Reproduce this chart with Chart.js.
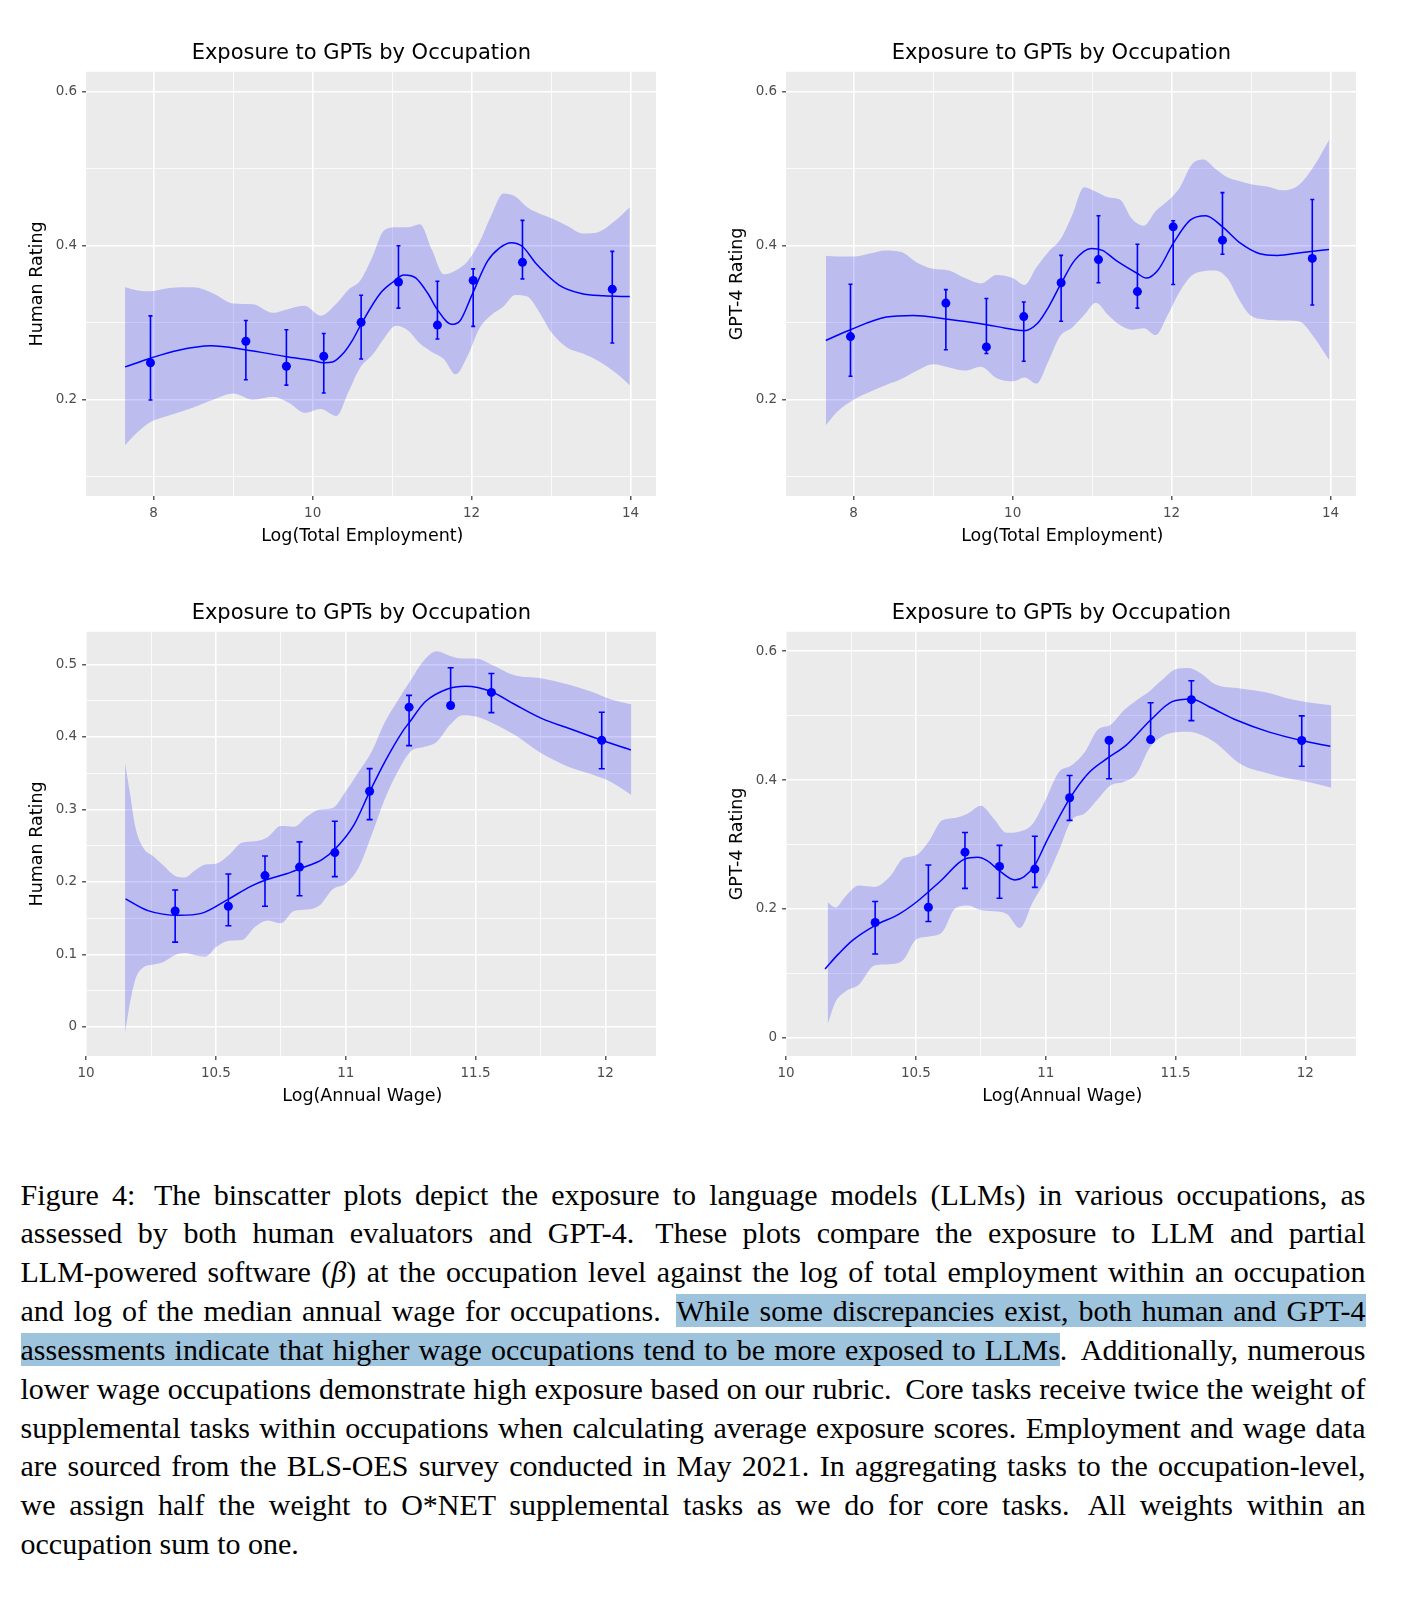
<!DOCTYPE html>
<html>
<head>
<meta charset="utf-8">
<script src="https://cdn.jsdelivr.net/npm/chart.js@4.4.1/dist/chart.umd.min.js"></script>
<style>
html,body{margin:0;padding:0;background:#fff;}
body{width:1424px;height:1608px;overflow:hidden;position:relative;}
.panel{position:absolute;width:720px;height:550px;}
.panel canvas{display:block;}
#caption{position:absolute;left:20.5px;top:1175.5px;width:1345px;font-family:"Liberation Serif","Times New Roman",serif;font-size:30px;line-height:38.85px;color:#000;}
.row{height:38.85px;white-space:nowrap;}
.ln{white-space:nowrap;display:inline-block;}
.hl{background:#9ec4dd;}
</style>
</head>
<body>
<div class="panel" style="left:5px;top:10px;"><canvas id="c1" width="720" height="550"></canvas></div>
<div class="panel" style="left:705px;top:10px;"><canvas id="c2" width="720" height="550"></canvas></div>
<div class="panel" style="left:5px;top:569.65px;"><canvas id="c3" width="720" height="550"></canvas></div>
<div class="panel" style="left:705px;top:569.65px;"><canvas id="c4" width="720" height="550"></canvas></div>

<div id="caption">
<div class="row"><span class="ln j">Figure 4:&#8201; The binscatter plots depict the exposure to language models (LLMs) in various occupations, as</span></div>
<div class="row"><span class="ln j">assessed by both human evaluators and GPT-4.&#8201; These plots compare the exposure to LLM and partial</span></div>
<div class="row"><span class="ln j">LLM-powered software (<i>β</i>) at the occupation level against the log of total employment within an occupation</span></div>
<div class="row"><span class="ln j">and log of the median annual wage for occupations.&#8201; <span class="hl">While some discrepancies exist, both human and GPT-4</span></span></div>
<div class="row"><span class="ln j"><span class="hl">assessments indicate that higher wage occupations tend to be more exposed to LLMs</span>.&#8201; Additionally, numerous</span></div>
<div class="row"><span class="ln j">lower wage occupations demonstrate high exposure based on our rubric.&#8201; Core tasks receive twice the weight of</span></div>
<div class="row"><span class="ln j">supplemental tasks within occupations when calculating average exposure scores. Employment and wage data</span></div>
<div class="row"><span class="ln j">are sourced from the BLS-OES survey conducted in May 2021. In aggregating tasks to the occupation-level,</span></div>
<div class="row"><span class="ln j">we assign half the weight to O*NET supplemental tasks as we do for core tasks.&#8201; All weights within an</span></div>
<div class="row"><span class="ln">occupation sum to one.</span></div>
</div>

<script>
// ---------------- DATA ----------------
const chartTitle = 'Exposure to GPTs by Occupation';

// bin centres
const empBins  = [7.96, 9.16, 9.67, 10.14, 10.61, 11.08, 11.57, 12.02, 12.64, 13.77];
const wageBins = [10.343, 10.548, 10.689, 10.822, 10.958, 11.092, 11.244, 11.404, 11.561, 11.986];

// Panel 1: Human rating vs log employment
const humanEmpMean = [0.248, 0.276, 0.2435, 0.2565, 0.3005, 0.353, 0.297, 0.355, 0.3785, 0.3436];
const humanEmpLow  = [0.1996, 0.226, 0.219, 0.2087, 0.253, 0.319, 0.279, 0.2953, 0.357, 0.2737];
const humanEmpHigh = [0.309, 0.303, 0.291, 0.286, 0.3358, 0.400, 0.354, 0.370, 0.433, 0.3927];
const humanEmpFitX = [7.64, 7.96, 8.3, 8.72, 9.15, 9.67, 10.0, 10.14, 10.25, 10.4, 10.5, 10.62, 10.85, 11.0, 11.15, 11.3, 11.45, 11.57, 11.75, 11.85, 12.0, 12.2, 12.35, 12.5, 12.64, 12.81, 13.1, 13.38, 13.66, 13.99];
const humanEmpFitY = [0.2427, 0.254, 0.264, 0.27, 0.265, 0.256, 0.251, 0.248, 0.249, 0.262, 0.277, 0.3, 0.338, 0.352, 0.362, 0.358, 0.338, 0.317, 0.298, 0.302, 0.335, 0.38, 0.397, 0.404, 0.399, 0.377, 0.349, 0.338, 0.335, 0.334];
const humanEmpBandX = [7.64, 7.8, 7.96, 8.2, 8.5, 8.75, 9.0, 9.25, 9.5, 9.7, 9.9, 10.1, 10.3, 10.45, 10.6, 10.75, 10.9, 11.05, 11.2, 11.35, 11.5, 11.65, 11.8, 11.95, 12.1, 12.25, 12.4, 12.55, 12.7, 12.85, 13.0, 13.2, 13.4, 13.6, 13.8, 13.99];
const humanEmpBandHigh = [0.346, 0.342, 0.341, 0.345, 0.346, 0.338, 0.325, 0.324, 0.313, 0.318, 0.322, 0.309, 0.325, 0.343, 0.355, 0.385, 0.42, 0.424, 0.424, 0.428, 0.395, 0.363, 0.368, 0.38, 0.405, 0.44, 0.468, 0.464, 0.45, 0.442, 0.436, 0.426, 0.416, 0.418, 0.432, 0.45];
const humanEmpBandLow  = [0.141, 0.158, 0.171, 0.18, 0.19, 0.2, 0.208, 0.2, 0.204, 0.196, 0.183, 0.188, 0.179, 0.21, 0.242, 0.258, 0.28, 0.296, 0.29, 0.273, 0.262, 0.253, 0.233, 0.257, 0.293, 0.31, 0.321, 0.336, 0.334, 0.314, 0.288, 0.268, 0.26, 0.25, 0.236, 0.219];

// Panel 2: GPT-4 rating vs log employment
const gptEmpMean = [0.282, 0.3255, 0.2686, 0.308, 0.352, 0.382, 0.3405, 0.4246, 0.4073, 0.3836];
const gptEmpLow  = [0.2306, 0.265, 0.26, 0.25, 0.302, 0.352, 0.319, 0.3496, 0.389, 0.323];
const gptEmpHigh = [0.350, 0.343, 0.3315, 0.327, 0.3875, 0.439, 0.402, 0.4324, 0.469, 0.46];
const gptEmpFitX = [7.65, 7.96, 8.41, 8.75, 9.16, 9.675, 9.91, 10.145, 10.32, 10.45, 10.61, 10.78, 10.99, 11.13, 11.3, 11.57, 11.68, 11.83, 12.02, 12.23, 12.43, 12.64, 12.87, 13.1, 13.33, 13.62, 13.98];
const gptEmpFitY = [0.277, 0.291, 0.3074, 0.3095, 0.305, 0.2975, 0.293, 0.2897, 0.3, 0.32, 0.351, 0.381, 0.3966, 0.394, 0.381, 0.364, 0.358, 0.3686, 0.403, 0.433, 0.439, 0.4246, 0.403, 0.39, 0.3875, 0.391, 0.3953];
const gptEmpBandX = [7.65, 7.8, 8.0, 8.2, 8.4, 8.6, 8.8, 9.0, 9.2, 9.4, 9.6, 9.8, 10.0, 10.15, 10.3, 10.45, 10.6, 10.75, 10.9, 11.05, 11.2, 11.35, 11.5, 11.65, 11.8, 11.95, 12.1, 12.25, 12.4, 12.55, 12.7, 12.85, 13.0, 13.2, 13.4, 13.6, 13.8, 13.98];
const gptEmpBandHigh = [0.387, 0.386, 0.386, 0.39, 0.394, 0.392, 0.378, 0.37, 0.368, 0.358, 0.351, 0.362, 0.358, 0.349, 0.372, 0.392, 0.408, 0.44, 0.476, 0.47, 0.463, 0.46, 0.435, 0.426, 0.445, 0.458, 0.475, 0.505, 0.512, 0.5, 0.489, 0.484, 0.48, 0.477, 0.472, 0.479, 0.505, 0.5375];
const gptEmpBandLow  = [0.167, 0.185, 0.2, 0.21, 0.219, 0.227, 0.238, 0.246, 0.242, 0.238, 0.243, 0.228, 0.224, 0.229, 0.221, 0.25, 0.283, 0.294, 0.31, 0.326, 0.31, 0.297, 0.291, 0.293, 0.284, 0.31, 0.34, 0.361, 0.367, 0.368, 0.358, 0.33, 0.309, 0.304, 0.303, 0.302, 0.28, 0.252];

// Panel 3: Human rating vs log wage
const humanWageMean = [0.160, 0.1665, 0.2088, 0.2205, 0.2405, 0.325, 0.441, 0.4433, 0.4614, 0.3953];
const humanWageLow  = [0.117, 0.1395, 0.1665, 0.181, 0.2074, 0.286, 0.388, 0.4395, 0.4335, 0.356];
const humanWageHigh = [0.189, 0.211, 0.2358, 0.2553, 0.2837, 0.3563, 0.4572, 0.4953, 0.4874, 0.434];
const humanWageFitX = [10.152, 10.238, 10.358, 10.444, 10.548, 10.634, 10.689, 10.772, 10.822, 10.91, 10.958, 11.03, 11.092, 11.151, 11.22, 11.244, 11.306, 11.392, 11.461, 11.561, 11.65, 11.754, 11.874, 11.986, 12.098];
const humanWageFitY = [0.1767, 0.1605, 0.154, 0.1567, 0.1763, 0.194, 0.2023, 0.2112, 0.2181, 0.2312, 0.2451, 0.2777, 0.3242, 0.366, 0.408, 0.4195, 0.4484, 0.466, 0.4698, 0.4623, 0.445, 0.4256, 0.4098, 0.3953, 0.3819];
const humanWageBandX = [10.15, 10.17, 10.19, 10.22, 10.26, 10.3, 10.34, 10.38, 10.42, 10.46, 10.5, 10.55, 10.6, 10.65, 10.7, 10.75, 10.8, 10.85, 10.9, 10.95, 11.0, 11.05, 11.1, 11.15, 11.2, 11.25, 11.3, 11.35, 11.4, 11.45, 11.5, 11.56, 11.65, 11.75, 11.85, 11.95, 12.02, 12.1];
const humanWageBandHigh = [0.364, 0.32, 0.275, 0.247, 0.235, 0.222, 0.209, 0.206, 0.216, 0.224, 0.225, 0.237, 0.254, 0.256, 0.262, 0.277, 0.276, 0.29, 0.3, 0.302, 0.325, 0.352, 0.38, 0.42, 0.45, 0.478, 0.505, 0.518, 0.512, 0.508, 0.508, 0.5, 0.485, 0.481, 0.473, 0.462, 0.452, 0.445];
const humanWageBandLow  = [-0.008, 0.035, 0.066, 0.082, 0.086, 0.09, 0.099, 0.102, 0.099, 0.097, 0.11, 0.119, 0.12, 0.138, 0.147, 0.143, 0.16, 0.162, 0.168, 0.19, 0.198, 0.22, 0.265, 0.314, 0.352, 0.38, 0.386, 0.393, 0.416, 0.43, 0.428, 0.42, 0.403, 0.378, 0.36, 0.348, 0.338, 0.32];

// Panel 4: GPT-4 rating vs log wage
const gptWageMean = [0.1786, 0.2023, 0.2879, 0.2658, 0.2616, 0.3725, 0.4618, 0.4628, 0.5248, 0.4613];
const gptWageLow  = [0.1298, 0.1802, 0.2317, 0.2164, 0.2333, 0.3373, 0.4019, 0.4628, 0.4923, 0.4213];
const gptWageHigh = [0.2112, 0.268, 0.3184, 0.2984, 0.3126, 0.4071, 0.4618, 0.5201, 0.5542, 0.4996];
const gptWageFitX = [10.15, 10.203, 10.257, 10.342, 10.435, 10.506, 10.595, 10.688, 10.738, 10.774, 10.822, 10.881, 10.916, 10.957, 11.005, 11.091, 11.166, 11.242, 11.308, 11.403, 11.487, 11.561, 11.629, 11.736, 11.861, 11.986, 12.096];
const gptWageFitY = [0.1066, 0.1303, 0.1513, 0.1739, 0.1918, 0.2117, 0.2432, 0.2774, 0.28, 0.2748, 0.259, 0.2448, 0.2495, 0.2669, 0.3063, 0.3704, 0.4113, 0.435, 0.4534, 0.4928, 0.5217, 0.5259, 0.5138, 0.4928, 0.4744, 0.4613, 0.4523];
const gptWageBandX = [10.16, 10.19, 10.23, 10.28, 10.34, 10.4, 10.45, 10.5, 10.55, 10.6, 10.65, 10.7, 10.75, 10.8, 10.85, 10.9, 10.95, 11.0, 11.05, 11.1, 11.15, 11.2, 11.25, 11.3, 11.35, 11.4, 11.45, 11.5, 11.55, 11.6, 11.65, 11.75, 11.85, 11.95, 12.02, 12.1];
const gptWageBandHigh = [0.21, 0.202, 0.22, 0.236, 0.234, 0.25, 0.278, 0.283, 0.305, 0.337, 0.341, 0.348, 0.36, 0.34, 0.318, 0.32, 0.332, 0.37, 0.412, 0.423, 0.443, 0.478, 0.486, 0.508, 0.524, 0.538, 0.556, 0.572, 0.574, 0.565, 0.549, 0.542, 0.536, 0.525, 0.52, 0.516];
const gptWageBandLow  = [0.02, 0.055, 0.072, 0.082, 0.112, 0.114, 0.12, 0.152, 0.157, 0.163, 0.2, 0.205, 0.198, 0.196, 0.192, 0.17, 0.21, 0.245, 0.29, 0.338, 0.348, 0.37, 0.392, 0.397, 0.41, 0.45, 0.468, 0.474, 0.475, 0.47, 0.459, 0.425, 0.411, 0.401, 0.396, 0.388];

// ticks
const empTicks = [8, 10, 12, 14];
const empTickLabels = ['8', '10', '12', '14'];
const empMinor = [9, 11, 13];
const wageTicks = [10, 10.5, 11, 11.5, 12];
const wageTickLabels = ['10', '10.5', '11', '11.5', '12'];
const wageMinor = [10.25, 10.75, 11.25, 11.75];
const ratingTicksA = [0.2, 0.4, 0.6];
const ratingTickLabelsA = ['0.2', '0.4', '0.6'];
const ratingMinorA = [0.1, 0.3, 0.5];
const ratingTicksB = [0, 0.1, 0.2, 0.3, 0.4, 0.5];
const ratingTickLabelsB = ['0', '0.1', '0.2', '0.3', '0.4', '0.5'];
const ratingMinorB = [0.05, 0.15, 0.25, 0.35, 0.45];
const ratingTicksC = [0, 0.2, 0.4, 0.6];
const ratingTickLabelsC = ['0', '0.2', '0.4', '0.6'];
const ratingMinorC = [0.1, 0.3, 0.5];

// ---------------- DRAWING ----------------
const BLUE = '#0000ff';
const panelBg = {
  id: 'panelBg',
  beforeDraw(chart) {
    const {ctx, chartArea: a} = chart;
    ctx.save();
    ctx.fillStyle = '#ebebeb';
    ctx.fillRect(a.left, a.top, a.right - a.left, a.bottom - a.top);
    ctx.restore();
  }
};
// centre the title over the figure like the original (shift its box start)
const titleShift = {
  id: 'titleShift',
  afterLayout(chart) { if (chart.titleBlock) chart.titleBlock.left = 61.6; }
};

function pts(xs, ys) { return xs.map((x, i) => ({x: x, y: ys[i]})); }
function errSegs(xs, lo, hi) {
  const d = [];
  xs.forEach((x, i) => { d.push({x: x, y: lo[i]}, {x: x, y: hi[i]}, {x: x, y: null}); });
  return d;
}
const near = (a, b) => Math.abs(a - b) < 1e-6;

function axis(pos, min, max, major, minor, labels, titleText, titlePad, fitFn) {
  const all = major.concat(minor).sort((a, b) => a - b);
  const isMaj = v => major.some(t => near(t, v));
  return {
    type: 'linear', position: pos, min: min, max: max,
    afterBuildTicks: s => { s.ticks = all.map(v => ({value: v})); },
    afterFit: fitFn,
    ticks: {
      autoSkip: false, maxRotation: 0, minRotation: 0,
      padding: pos === 'left' ? 5 : 5.5,
      color: '#4d4d4d',
      font: {family: 'DejaVu Sans', size: 13.5},
      callback: v => { const i = major.findIndex(t => near(t, v)); return i >= 0 ? labels[i] : ''; }
    },
    grid: {
      color: '#ffffff',
      lineWidth: c => (c.tick && isMaj(c.tick.value)) ? 1.6 : 0.8,
      drawTicks: true, tickLength: 4, tickWidth: 1.2,
      tickColor: c => (c.tick && isMaj(c.tick.value)) ? '#333333' : 'rgba(0,0,0,0)'
    },
    border: {display: false},
    title: {display: true, text: titleText, color: '#000000',
      font: {family: 'DejaVu Sans', size: 17.5}, padding: titlePad}
  };
}

function panel(id, o) {
  new Chart(document.getElementById(id), {
    type: 'scatter',
    data: {
      datasets: [
        {label: 'bins', data: pts(o.bins, o.mean), showLine: false,
         pointRadius: 4.5, pointBackgroundColor: BLUE, pointBorderWidth: 0, pointHoverRadius: 4.5, order: 0},
        {label: 'err', data: errSegs(o.bins, o.lo, o.hi), showLine: true, spanGaps: false,
         borderColor: BLUE, borderWidth: 1.6, tension: 0,
         pointStyle: 'line', pointRadius: o.cap, pointBorderColor: BLUE, pointBorderWidth: 1.6,
         pointHoverRadius: o.cap, order: 1},
        {label: 'fit', data: pts(o.fitX, o.fitY), showLine: true, borderColor: BLUE, borderWidth: 1.5,
         cubicInterpolationMode: 'monotone', pointRadius: 0, pointHoverRadius: 0, order: 2},
        {label: 'bandHigh', data: pts(o.bandX, o.bandHi), showLine: true, borderColor: 'rgba(0,0,0,0)', borderWidth: 0,
         cubicInterpolationMode: 'monotone', pointRadius: 0, pointHoverRadius: 0,
         fill: '+1', backgroundColor: 'rgba(0,0,255,0.2)', order: 3},
        {label: 'bandLow', data: pts(o.bandX, o.bandLo), showLine: true, borderColor: 'rgba(0,0,0,0)', borderWidth: 0,
         cubicInterpolationMode: 'monotone', pointRadius: 0, pointHoverRadius: 0, fill: false, order: 4}
      ]
    },
    options: {
      responsive: false, animation: false, events: [],
      layout: {padding: {left: 0, right: 69, top: 0, bottom: 0}},
      scales: {
        x: axis('bottom', o.xMin, o.xMax, o.xTicks, o.xMinor, o.xLabels, o.xTitle,
                {top: 0, bottom: 13.1}, s => { s.height = 64; }),
        y: axis('left', o.yMin, o.yMax, o.yTicks, o.yMinor, o.yLabels, o.yTitle,
                {top: 22.4, bottom: 0}, s => { s.width = 81.1; })
      },
      plugins: {
        legend: {display: false},
        tooltip: {enabled: false},
        title: {display: true, text: chartTitle, color: '#000000',
          font: {family: 'DejaVu Sans', size: 21, weight: 'normal'},
          padding: {top: 30.7, bottom: 5.85}}
      }
    },
    plugins: [panelBg, titleShift]
  });
}

const SP = '\u2002\u2002';
panel('c1', {bins: empBins, mean: humanEmpMean, lo: humanEmpLow, hi: humanEmpHigh, cap: 2,
  fitX: humanEmpFitX, fitY: humanEmpFitY, bandX: humanEmpBandX, bandHi: humanEmpBandHigh, bandLo: humanEmpBandLow,
  xMin: 7.15, xMax: 14.32, xTicks: empTicks, xMinor: empMinor, xLabels: empTickLabels, xTitle: 'Log(Total Employment)' + SP,
  yMin: 0.075, yMax: 0.626, yTicks: ratingTicksA, yMinor: ratingMinorA, yLabels: ratingTickLabelsA, yTitle: 'Human Rating'});
panel('c2', {bins: empBins, mean: gptEmpMean, lo: gptEmpLow, hi: gptEmpHigh, cap: 2,
  fitX: gptEmpFitX, fitY: gptEmpFitY, bandX: gptEmpBandX, bandHi: gptEmpBandHigh, bandLo: gptEmpBandLow,
  xMin: 7.15, xMax: 14.32, xTicks: empTicks, xMinor: empMinor, xLabels: empTickLabels, xTitle: 'Log(Total Employment)' + SP,
  yMin: 0.075, yMax: 0.626, yTicks: ratingTicksA, yMinor: ratingMinorA, yLabels: ratingTickLabelsA, yTitle: 'GPT-4 Rating'});
panel('c3', {bins: wageBins, mean: humanWageMean, lo: humanWageLow, hi: humanWageHigh, cap: 3,
  fitX: humanWageFitX, fitY: humanWageFitY, bandX: humanWageBandX, bandHi: humanWageBandHigh, bandLo: humanWageBandLow,
  xMin: 10, xMax: 12.195, xTicks: wageTicks, xMinor: wageMinor, xLabels: wageTickLabels, xTitle: 'Log(Annual Wage)' + SP,
  yMin: -0.040, yMax: 0.545, yTicks: ratingTicksB, yMinor: ratingMinorB, yLabels: ratingTickLabelsB, yTitle: 'Human Rating'});
panel('c4', {bins: wageBins, mean: gptWageMean, lo: gptWageLow, hi: gptWageHigh, cap: 3,
  fitX: gptWageFitX, fitY: gptWageFitY, bandX: gptWageBandX, bandHi: gptWageBandHigh, bandLo: gptWageBandLow,
  xMin: 10, xMax: 12.195, xTicks: wageTicks, xMinor: wageMinor, xLabels: wageTickLabels, xTitle: 'Log(Annual Wage)' + SP,
  yMin: -0.0287, yMax: 0.6303, yTicks: ratingTicksC, yMinor: ratingMinorC, yLabels: ratingTickLabelsC, yTitle: 'GPT-4 Rating'});

// ---------------- CAPTION JUSTIFICATION ----------------
function justify() {
  const W = 1345;
  document.querySelectorAll('.ln.j').forEach(el => {
    el.style.wordSpacing = '0px';
    const w = el.getBoundingClientRect().width;
    const n = (el.textContent.match(/ /g) || []).length;
    if (n > 0) el.style.wordSpacing = ((W - w) / n) + 'px';
  });
}
justify();
if (document.fonts && document.fonts.ready) document.fonts.ready.then(justify);
</script>
</body>
</html>
